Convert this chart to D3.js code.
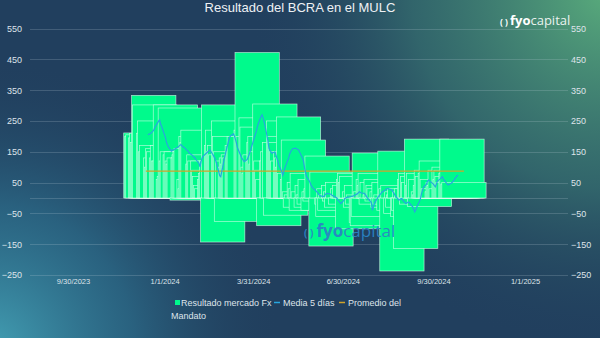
<!DOCTYPE html>
<html><head><meta charset="utf-8">
<script src="https://cdn.jsdelivr.net/npm/d3@7"></script>
<style>html,body{margin:0;padding:0;background:#22425f;}svg{display:block;font-family:"Liberation Sans",Arial,sans-serif;}</style>
</head><body>
<svg id="chart" width="600" height="338"></svg>
<script>
// ---------- DATA ----------
const title = "Resultado del BCRA en el MULC";
const startDate = "2023-12-13";
const endDate = "2024-10-31";
// non-trading days (Argentine holidays) inside the range
const holidays = ["2023-12-25","2024-01-01","2024-02-12","2024-02-13","2024-03-28","2024-03-29",
  "2024-04-01","2024-04-02","2024-05-01","2024-06-17","2024-06-20","2024-06-21","2024-07-09","2024-10-11"];
// daily result of BCRA in FX market (USD millions), one value per trading day (one row per week)
const fxResult = [
  211,200,205,
  195,210,180,333,302,
  210,250,150,170,
  130,100,160,150,
  130,170,120,120,302,
  60,70,292,120,150,
  140,150,120,110,130,
  -7,130,140,150,160,
  60,30,200,180,220,
  110,140,120,
  120,90,70,40,30,
  60,80,120,-143,302,
  170,220,150,170,140,
  250,200,150,-76,120,
  100,130,110,140,130,
  170,150,200,
  220,472,200,
  260,230,100,80,140,
  120,180,200,110,150,
  305,120,90,60,-90,
  120,150,180,-56,
  250,200,180,150,120,
  150,130,100,263,80,
  60,188,20,-30,10,
  50,30,-40,80,20,
  -30,40,10,-20,60,
  -40,20,-10,30,136,
  -156,84,
  -20,-60,30,-40,10,
  40,-10,20,-30,50,
  -20,30,10,40,
  -100,60,80,50,70,
  20,-30,40,-20,10,
  -80,-90,-60,146,20,
  60,40,80,-20,50,
  10,60,-10,40,30,
  20,-30,50,-20,10,
  -40,152,30,-237,40,
  -50,20,-30,10,30,
  -60,-40,20,-164,30,
  60,80,-20,70,50,
  191,40,80,-28,60,
  20,10,40,90,70,
  80,120,60,30,
  20,50,40,90,30,
  100,60,90,70,50,
  80,191,45,50
];
// 5-day moving average (same trading days)
const ma5 = [
  null,null,205,
  210,213,216,220,228,
  250,253,240,232,
  195,180,172,165,
  152,155,156,158,160,
  166,170,172,172,168,
  161,157,154,152,146,
  139,135,132,129,124,
  112,101,118,129,135,
  150,153,156,
  141,135,128,120,110,
  72,69,85,100,118,
  160,172,185,196,202,
  208,200,190,178,163,
  140,132,127,122,118,
  125,134,142,
  215,228,240,
  265,270,260,248,235,
  185,161,155,150,145,
  150,140,130,120,108,
  85,74,95,105,
  130,142,150,155,160,
  162,160,158,156,150,
  130,120,100,85,70,
  55,48,40,34,31,
  22,18,15,10,8,
  4,6,10,14,15,
  12,9,
  0,-7,-10,-14,-18,
  -8,-2,0,2,3,
  4,6,7,9,
  14,18,20,18,16,
  15,10,5,0,-4,
  -15,-40,-30,-18,-12,
  4,8,12,16,20,
  25,28,30,31,29,
  25,20,15,9,4,
  -7,-5,-3,-2,-8,
  -18,-16,-14,-13,-18,
  -29,-37,-45,-40,-30,
  -10,0,15,25,35,
  45,55,58,55,53,
  45,40,36,45,55,
  62,66,69,62,
  45,42,44,46,47,
  58,64,68,72,74,
  null,null,null,null
];
const mandateAverage = 87;
const xTickLabels = ["9/30/2023","1/1/2024","3/31/2024","6/30/2024","9/30/2024","1/1/2025"];
const yTicks = [-250,-150,-50,50,150,250,350,450,550];
const legendLabels = ["Resultado mercado Fx","Media 5 días","Promedio del Mandato"];

// ---------- BUILD ----------
const parseISO = d3.timeParse("%Y-%m-%d");
const fmtISO = d3.timeFormat("%Y-%m-%d");
const hol = new Set(holidays);
const dates = d3.timeDay.range(parseISO(startDate), d3.timeDay.offset(parseISO(endDate), 1))
  .filter(d => d.getDay() !== 0 && d.getDay() !== 6 && !hol.has(fmtISO(d)));
if (dates.length !== fxResult.length) console.warn("length mismatch", dates.length, fxResult.length);
const rows = dates.map((d, i) => ({date: d, v: fxResult[i], ma: ma5[i]}));

const svg = d3.select("#chart");
const W = 600, H = 338;
const plotL = 30, plotR = 568;

// background
const defs = svg.append("defs");
const g1 = defs.append("radialGradient").attr("id","gTR").attr("gradientUnits","userSpaceOnUse")
  .attr("cx",610).attr("cy",-10).attr("r",360);
g1.append("stop").attr("offset",0).attr("stop-color","#5aad7c").attr("stop-opacity",1);
g1.append("stop").attr("offset",0.55).attr("stop-color","#3f8476").attr("stop-opacity",0.55);
g1.append("stop").attr("offset",1).attr("stop-color","#22425f").attr("stop-opacity",0);
const g2 = defs.append("radialGradient").attr("id","gBL").attr("gradientUnits","userSpaceOnUse")
  .attr("cx",-10).attr("cy",350).attr("r",290);
g2.append("stop").attr("offset",0).attr("stop-color","#43a0b4").attr("stop-opacity",1);
g2.append("stop").attr("offset",0.5).attr("stop-color","#2f7895").attr("stop-opacity",0.6);
g2.append("stop").attr("offset",1).attr("stop-color","#22425f").attr("stop-opacity",0);
svg.append("rect").attr("width",W).attr("height",H).attr("fill","#213f5e");
svg.append("rect").attr("width",W).attr("height",H).attr("fill","url(#gTR)");
svg.append("rect").attr("width",W).attr("height",H).attr("fill","url(#gBL)");

// scales
const parseTick = d3.timeParse("%m/%d/%Y");
const xTickDates = xTickLabels.map(parseTick);
const x = d3.scaleTime().domain([xTickDates[0], xTickDates[xTickDates.length-1]]).range([73, 525]);
const y = d3.scaleLinear().domain([-250, 550]).range([275, 28.5]);

// gridlines
svg.append("g").selectAll("line").data(yTicks.concat([0])).join("line")
  .attr("x1", plotL).attr("x2", plotR)
  .attr("y1", d => Math.round(y(d)) + 0.5).attr("y2", d => Math.round(y(d)) + 0.5)
  .attr("stroke", "rgba(200,215,225,0.2)").attr("stroke-width", 1);

// y axes
const axL = svg.append("g").attr("transform", "translate(22,0)")
  .call(d3.axisLeft(y).tickValues(yTicks).tickSize(0).tickPadding(0));
const axR = svg.append("g").attr("transform", "translate(571,0)")
  .call(d3.axisRight(y).tickValues(yTicks).tickSize(0).tickPadding(0));
[axL, axR].forEach(a => {
  a.select(".domain").remove();
  a.selectAll("text").attr("fill", "#dfe4ea").attr("font-size", "9px")
    .attr("font-family", "'Liberation Sans',Arial,sans-serif");
});

// x axis
const axX = svg.append("g").attr("transform", "translate(0,277)")
  .call(d3.axisBottom(x).tickValues(xTickDates).tickFormat(d3.timeFormat("%-m/%-d/%Y")).tickSize(0).tickPadding(2));
axX.select(".domain").remove();
axX.selectAll("text").attr("fill", "#dfe4ea").attr("font-size", "7.5px")
  .attr("font-family", "'Liberation Sans',Arial,sans-serif");

// bars (each daily bar spans ~45 days on the date axis, as in the source)
const barW = x(d3.timeDay.offset(xTickDates[0], 45)) - x(xTickDates[0]);
svg.append("g").selectAll("rect").data(rows).join("rect")
  .attr("x", d => x(d.date) - barW / 2)
  .attr("width", barW)
  .attr("y", d => Math.min(y(d.v), y(0)))
  .attr("height", d => Math.abs(y(d.v) - y(0)))
  .attr("fill", "#00fa8c")
  .attr("stroke", "rgba(225,255,240,0.75)")
  .attr("stroke-width", 0.7);

// mandate average line
svg.append("line")
  .attr("x1", x(dates[0])).attr("x2", x(dates[dates.length-1]))
  .attr("y1", y(mandateAverage)).attr("y2", y(mandateAverage))
  .attr("stroke", "#cfa32a").attr("stroke-width", 1.3);

// 5 day average
svg.append("path").datum(rows)
  .attr("fill", "none").attr("stroke", "#27a6df").attr("stroke-width", 1.2)
  .attr("d", d3.line().defined(d => d.ma != null).x(d => x(d.date)).y(d => y(d.ma)));

// watermark
const wm = svg.append("text").attr("x", 304).attr("y", 237)
  .attr("font-family", "'Open Sans','Noto Sans',sans-serif").attr("fill", "#2a84c4").attr("fill-opacity", 0.95);
wm.append("tspan").attr("font-size", "10px").attr("font-weight", "bold").text("( )");
wm.append("tspan").attr("dx", 3).attr("font-size", "17px").attr("font-weight", "bold").text("fyo");
wm.append("tspan").attr("font-size", "17px").text("capital");

// title
svg.append("text").attr("x", 300).attr("y", 12).attr("text-anchor", "middle")
  .attr("fill", "#eef1f4").attr("font-size", "13px").text(title);

// logo top-right (kept just left of the right-hand 550 label)
const lg = svg.append("text").attr("x", 500).attr("y", 25)
  .attr("font-family", "'Open Sans','Noto Sans',sans-serif").attr("fill", "#ffffff");
lg.append("tspan").attr("font-size", "8.5px").attr("font-weight", "bold").text("( )");
lg.append("tspan").attr("dx", 2).attr("font-size", "13px").attr("font-weight", "bold").text("fyo");
lg.append("tspan").attr("font-size", "13px").attr("fill-opacity", 0.9).text("capital");

// legend
const leg = svg.append("g").attr("font-size", "9px").attr("fill", "#dfe4ea");
leg.append("rect").attr("x", 175).attr("y", 300).attr("width", 5).attr("height", 5).attr("fill", "#00fa8c");
leg.append("text").attr("x", 181).attr("y", 306).text(legendLabels[0]);
leg.append("line").attr("x1", 274).attr("x2", 280).attr("y1", 302.5).attr("y2", 302.5).attr("stroke", "#27a6df").attr("stroke-width", 1.5);
leg.append("text").attr("x", 283).attr("y", 306).text(legendLabels[1]);
leg.append("line").attr("x1", 339).attr("x2", 345).attr("y1", 302.5).attr("y2", 302.5).attr("stroke", "#cfa32a").attr("stroke-width", 1.5);
const cut = legendLabels[2].lastIndexOf(" ");
leg.append("text").attr("x", 348).attr("y", 306).text(legendLabels[2].slice(0, cut));
leg.append("text").attr("x", 171).attr("y", 319).text(legendLabels[2].slice(cut + 1));
</script>
</body></html>
